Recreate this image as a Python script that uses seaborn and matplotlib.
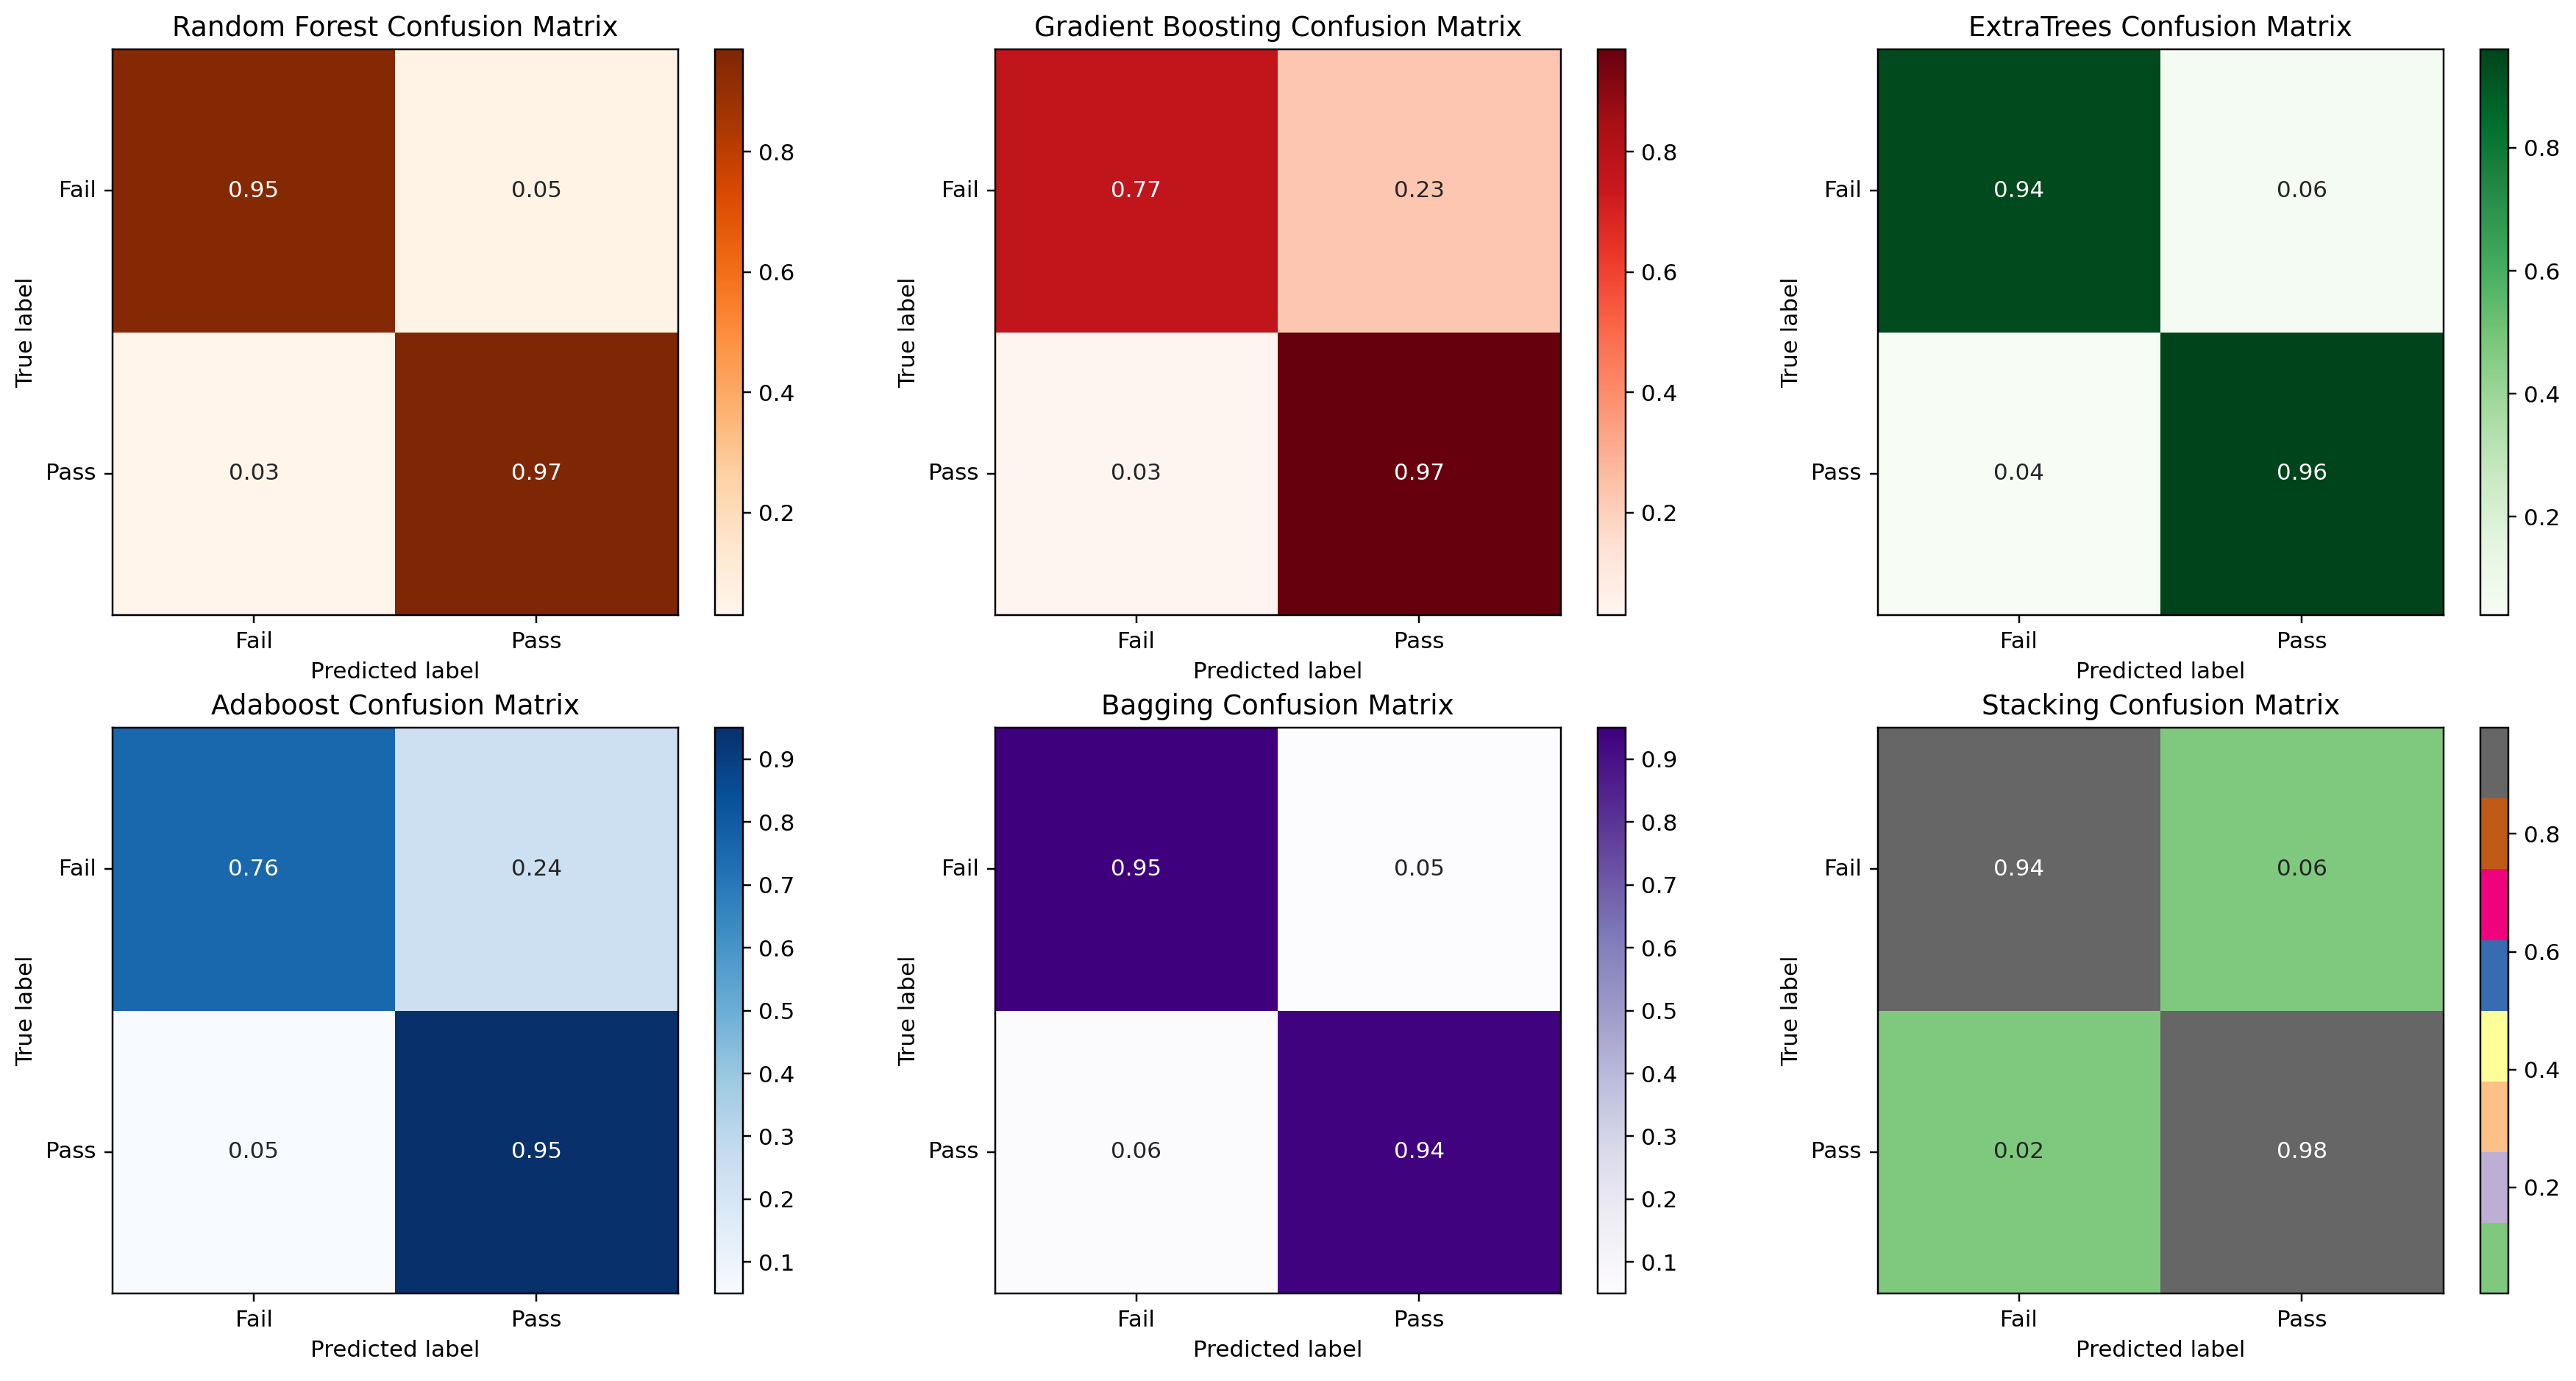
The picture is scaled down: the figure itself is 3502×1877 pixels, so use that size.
import matplotlib
matplotlib.use("Agg")
import matplotlib.pyplot as plt
import seaborn as sns
import numpy as np
import pandas as pd

labels = ["Fail", "Pass"]

titulos = ["Random Forest", "Gradient Boosting", "ExtraTrees",
           "Adaboost", "Bagging", "Stacking"]
mapas = ["Oranges", "Reds", "Greens", "Blues", "Purples", "Accent"]

rf = [[0.95, 0.05], [0.03, 0.97]]
gb = [[0.77, 0.23], [0.03, 0.97]]
et = [[0.94, 0.06], [0.04, 0.96]]
ada = [[0.76, 0.24], [0.05, 0.95]]
bag = [[0.95, 0.05], [0.06, 0.94]]
stack = [[0.94, 0.06], [0.02, 0.98]]

matrices = [rf, gb, et, ada, bag, stack]

DPI = 223.34
fig = plt.figure(figsize=(3502 / DPI, 1877 / DPI), dpi=DPI)

lefts = [0.0436, 0.38626, 0.72892]
bottoms = [0.55461, 0.0634]
ancho, alto = 0.21959, 0.40954
cb_gap, cb_ancho = 0.01428, 0.01085

for i, (titulo, cmap, m) in enumerate(zip(titulos, mapas, matrices)):
    fila, col = divmod(i, 3)
    ax = fig.add_axes([lefts[col], bottoms[fila], ancho, alto])
    cax = fig.add_axes([lefts[col] + ancho + cb_gap, bottoms[fila], cb_ancho, alto])
    df = pd.DataFrame(m, index=labels, columns=labels)
    sns.heatmap(df, ax=ax, cbar_ax=cax, cmap=cmap, annot=True, fmt=".2f",
                annot_kws={"fontsize": 10})
    # bordes como en matplotlib
    for sp in ax.spines.values():
        sp.set_visible(True)
        sp.set_linewidth(0.8)
        sp.set_color("black")
    cb = ax.collections[0].colorbar
    cb.outline.set_visible(True)
    cb.outline.set_linewidth(0.8)
    cb.outline.set_edgecolor("black")
    cax.tick_params(length=3.5, width=0.8, labelsize=10)
    ax.tick_params(length=3.5, width=0.8, labelsize=10)
    ax.set_yticklabels(labels, rotation=0, va="center")
    ax.set_xticklabels(labels, rotation=0)
    ax.set_title(f"{titulo} Confusion Matrix", fontsize=12)
    ax.set_xlabel("Predicted label", fontsize=10)
    ax.set_ylabel("True label", fontsize=10)

fig.savefig("out.png", dpi=DPI)
